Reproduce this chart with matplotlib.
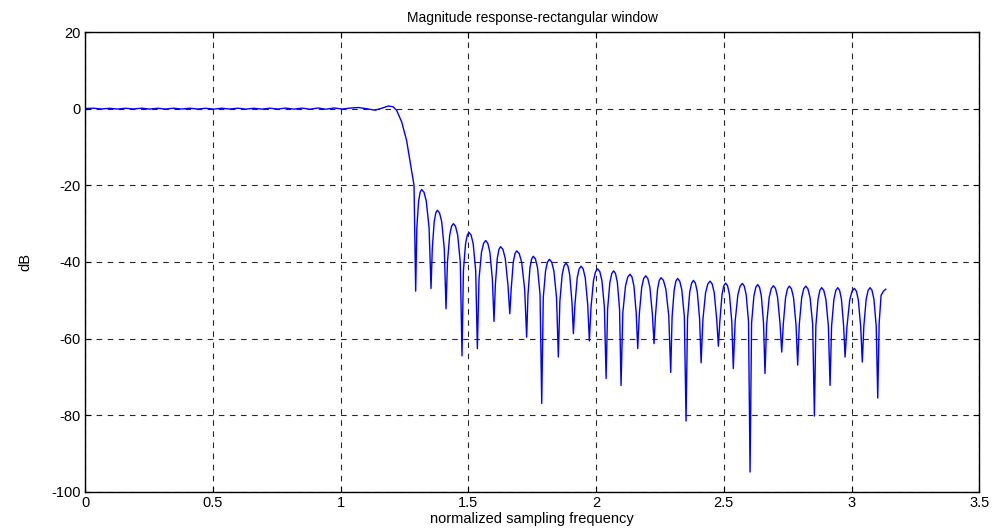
import matplotlib
matplotlib.use("Agg")
import matplotlib.pyplot as plt

# ---- data (normalized frequency, dB) ----
passband_w = [0.000, 0.031, 0.063, 0.094, 0.126, 0.157, 0.188, 0.220, 0.251, 0.283,
              0.314, 0.346, 0.377, 0.408, 0.440, 0.471, 0.503, 0.534, 0.565, 0.597,
              0.628, 0.660, 0.691, 0.723, 0.754, 0.785, 0.817, 0.848, 0.880, 0.911,
              0.942, 0.974, 1.005, 1.037, 1.069, 1.100, 1.134, 1.160, 1.186]
passband_db = [0.05, 0.12, -0.08, 0.10, -0.10, 0.10, -0.08, 0.12, -0.10, 0.10,
               -0.10, 0.12, -0.10, 0.12, -0.10, 0.10, -0.12, 0.12, -0.10, 0.12,
               -0.12, 0.10, -0.12, 0.12, -0.10, 0.15, -0.12, 0.15, -0.15, 0.18,
               -0.15, 0.18, -0.10, 0.15, 0.30, 0.00, -0.40, 0.10, 0.69]

transition_w = [1.205, 1.219, 1.239, 1.258, 1.271, 1.282, 1.287]
transition_db = [0.5, -0.44, -3.5, -8.3, -13.5, -17.8, -20.0]

stopband_w = [
    1.2935, 1.298, 1.305, 1.317, 1.335, 1.346,
    1.3536, 1.3586, 1.366, 1.3784, 1.3954, 1.4055,
    1.4123, 1.418, 1.4267, 1.441, 1.458, 1.4681,
    1.4749, 1.4804, 1.4887, 1.5024, 1.5187, 1.5285,
    1.535, 1.5415, 1.5513, 1.5676, 1.5839, 1.5937,
    1.6002, 1.6054, 1.6131, 1.626, 1.644, 1.6548,
    1.662, 1.6674, 1.6755, 1.689, 1.7085, 1.7202,
    1.728, 1.7332, 1.741, 1.754, 1.7705, 1.7804,
    1.787, 1.793, 1.802, 1.817, 1.8345, 1.845,
    1.852, 1.858, 1.867, 1.882, 1.8965, 1.9052,
    1.911, 1.917, 1.926, 1.941, 1.9573, 1.967,
    1.9735, 1.980, 1.9898, 2.006, 2.0225, 2.0324,
    2.039, 2.0449, 2.0538, 2.0686, 2.083, 2.0917,
    2.0975, 2.1045, 2.1151, 2.1327, 2.1478, 2.1568,
    2.1628, 2.169, 2.1784, 2.194, 2.2104, 2.2202,
    2.2267, 2.2322, 2.2404, 2.254, 2.273, 2.2844,
    2.292, 2.2974, 2.3055, 2.319, 2.3355, 2.3454,
    2.352, 2.3578, 2.3665, 2.381, 2.396, 2.405,
    2.411, 2.418, 2.4285, 2.446, 2.4623, 2.4721,
    2.4786, 2.4843, 2.4928, 2.507, 2.522, 2.531,
    2.537, 2.5441, 2.5548, 2.5725, 2.5876, 2.5966,
    2.6026, 2.6086, 2.6176, 2.6326, 2.6468, 2.6553,
    2.661, 2.6676, 2.6775, 2.694, 2.7103, 2.7201,
    2.7266, 2.7326, 2.7416, 2.7566, 2.7728, 2.7825,
    2.789, 2.7953, 2.8048, 2.8206, 2.8376, 2.8477,
    2.8545, 2.8602, 2.8688, 2.883, 2.8994, 2.9092,
    2.9158, 2.9218, 2.9309, 2.946, 2.9603, 2.9689,
    2.9746, 2.9819, 2.9928, 3.011, 3.0265, 3.0358,
    3.042, 3.0481, 3.0572, 3.0724, 3.0875, 3.0965,
    3.1025, 3.108, 3.1155, 3.125, 3.134,
]
stopband_db = [
    -47.6, -31.1, -24.1, -21.1, -24.1, -31.1,
    -46.9, -36.5, -29.5, -26.5, -29.5, -36.5,
    -52.2, -40.0, -33.0, -30.0, -33.0, -40.0,
    -64.5, -42.3, -35.3, -32.3, -35.3, -42.3,
    -62.6, -44.4, -37.4, -34.4, -37.4, -44.4,
    -55.5, -46.0, -39.0, -36.0, -39.0, -46.0,
    -53.5, -47.1, -40.1, -37.1, -40.1, -47.1,
    -59.6, -48.5, -41.5, -38.5, -41.5, -48.5,
    -76.9, -49.3, -42.3, -39.3, -42.3, -49.3,
    -64.8, -50.3, -43.3, -40.3, -43.3, -50.3,
    -58.7, -51.1, -44.1, -41.1, -44.1, -51.1,
    -60.6, -51.8, -44.8, -41.8, -44.8, -51.8,
    -70.4, -52.3, -45.3, -42.3, -45.3, -52.3,
    -72.2, -53.2, -46.2, -43.2, -46.2, -53.2,
    -62.6, -53.6, -46.6, -43.6, -46.6, -53.6,
    -61.3, -54.1, -47.1, -44.1, -47.1, -54.1,
    -68.8, -54.3, -47.3, -44.3, -47.3, -54.3,
    -81.5, -54.8, -47.8, -44.8, -47.8, -54.8,
    -66.3, -55.0, -48.0, -45.0, -48.0, -55.0,
    -62.0, -55.5, -48.5, -45.5, -48.5, -55.5,
    -67.8, -55.6, -48.6, -45.6, -48.6, -55.6,
    -94.8, -55.9, -48.9, -45.9, -48.9, -55.9,
    -69.1, -56.2, -49.2, -46.2, -49.2, -56.2,
    -63.5, -56.3, -49.3, -46.3, -49.3, -56.3,
    -66.9, -56.3, -49.3, -46.3, -49.3, -56.3,
    -80.2, -56.7, -49.7, -46.7, -49.7, -56.7,
    -72.2, -56.7, -49.7, -46.7, -49.7, -56.7,
    -64.8, -56.9, -49.9, -46.9, -49.9, -56.9,
    -66.1, -56.7, -49.7, -46.7, -49.7, -56.7,
    -75.5, -56.0, -48.7, -47.6, -47.1,
]

# points close to each sidelobe crest (rounded tops)
crest_w = [
    1.311, 1.326, 1.3722, 1.3869, 1.4338, 1.4495, 1.4955, 1.5106,
    1.5595, 1.5758, 1.6196, 1.635, 1.6823, 1.6988, 1.7475, 1.7623,
    1.8095, 1.8258, 1.8745, 1.8893, 1.9335, 1.9491, 1.9979, 2.0143,
    2.0612, 2.0758, 2.1239, 2.1402, 2.1862, 2.2022, 2.2472, 2.2635,
    2.3123, 2.3273, 2.3738, 2.3885, 2.4373, 2.4542, 2.4999, 2.5145,
    2.5636, 2.580, 2.6251, 2.6397, 2.6858, 2.7022, 2.7491, 2.7647,
    2.8127, 2.8291, 2.8759, 2.8912, 2.9385, 2.9532, 3.0019, 3.0188,
    3.0648, 3.080,
]
crest_db = [
    -21.8, -21.8, -27.2, -27.2, -30.7, -30.7, -33.0, -33.0,
    -35.1, -35.1, -36.7, -36.7, -37.8, -37.8, -39.2, -39.2,
    -40.0, -40.0, -41.0, -41.0, -41.8, -41.8, -42.5, -42.5,
    -43.0, -43.0, -43.9, -43.9, -44.3, -44.3, -44.8, -44.8,
    -45.0, -45.0, -45.5, -45.5, -45.7, -45.7, -46.2, -46.2,
    -46.3, -46.3, -46.6, -46.6, -46.9, -46.9, -47.0, -47.0,
    -47.0, -47.0, -47.4, -47.4, -47.4, -47.4, -47.6, -47.6,
    -47.4, -47.4,
]

x_ticks = [0, 0.5, 1, 1.5, 2, 2.5, 3, 3.5]
x_tick_labels = ["0", "0.5", "1", "1.5", "2", "2.5", "3", "3.5"]
y_ticks = [-100, -80, -60, -40, -20, 0, 20]
y_tick_labels = ["-100", "-80", "-60", "-40", "-20", "0", "20"]

title = "Magnitude response-rectangular window"
xlabel = "normalized sampling frequency"
ylabel = "dB"

plt.rcParams['font.family'] = ['Liberation Sans', 'DejaVu Sans']

pairs = sorted(zip(passband_w + transition_w + stopband_w + crest_w,
                   passband_db + transition_db + stopband_db + crest_db))
w = [p[0] for p in pairs]
db = [p[1] for p in pairs]

fig = plt.figure(figsize=(9.95, 5.29), dpi=100)
ax = fig.add_axes([0.0857, 0.070, 0.8985, 0.8695])
ax.plot(w, db, color=(0, 0, 1), linewidth=1.0, solid_joinstyle='round')

ax.set_xlim(0, 3.5)
ax.set_ylim(-100, 20)
ax.set_xticks(x_ticks)
ax.set_xticklabels(x_tick_labels)
ax.set_yticks(y_ticks)
ax.set_yticklabels(y_tick_labels)
ax.grid(True, color='black', linestyle=(0, (5, 5)), linewidth=0.8, alpha=0.85)
ax.tick_params(direction='in', length=4, labelsize=10.5, top=True, right=True, pad=3)
for s in ax.spines.values():
    s.set_linewidth(1.0)
    s.set_color('black')

ax.set_title(title, fontsize=10, pad=7)
ax.set_xlabel(xlabel, fontsize=10.5, labelpad=1)
ax.set_ylabel(ylabel, fontsize=10.5, labelpad=14)

fig.savefig("out.png", dpi=100)
